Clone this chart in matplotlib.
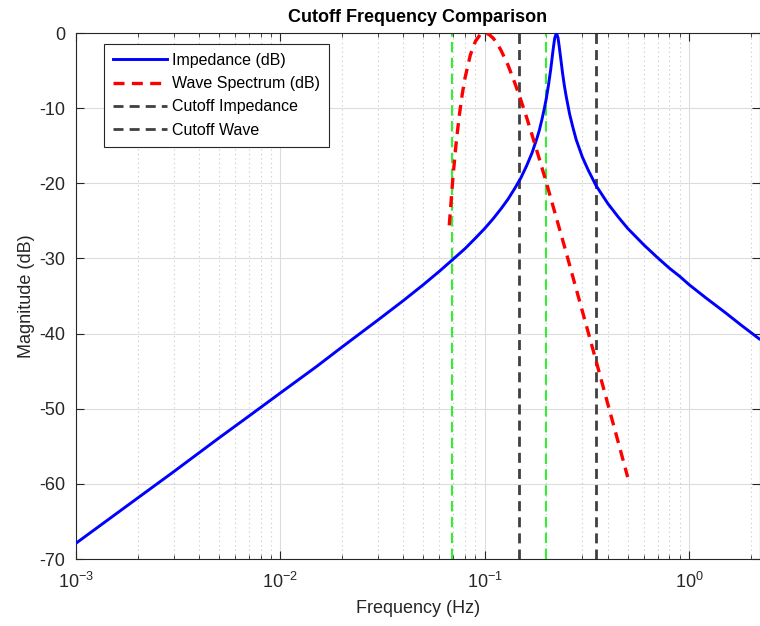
import matplotlib
matplotlib.use('Agg')
import matplotlib.pyplot as plt
from matplotlib.ticker import LogLocator, NullFormatter

plt.rcParams['font.family'] = ['Liberation Sans', 'DejaVu Sans']
plt.rcParams['mathtext.fontset'] = 'custom'
plt.rcParams['mathtext.rm'] = 'Liberation Sans'
plt.rcParams['mathtext.it'] = 'Liberation Sans:italic'
plt.rcParams['mathtext.bf'] = 'Liberation Sans:bold'

# impedance curve (Hz, dB)
imp_f = [0.001, 0.002, 0.003, 0.005, 0.007, 0.01, 0.015, 0.02, 0.03, 0.04, 0.05, 0.06,
         0.07, 0.08, 0.09, 0.1, 0.11, 0.12, 0.13, 0.14, 0.15, 0.16, 0.17, 0.18, 0.185,
         0.19, 0.195, 0.2, 0.205, 0.21, 0.215, 0.218, 0.22, 0.224, 0.228, 0.231, 0.235,
         0.238, 0.24, 0.245, 0.25, 0.26, 0.27, 0.28, 0.3, 0.32, 0.35, 0.4, 0.45, 0.5,
         0.6, 0.7, 0.8, 0.9, 1.0, 1.2, 1.5, 1.8, 2.2]
imp_db = [-67.9, -61.9, -58.4, -53.9, -51.0, -47.9, -44.4, -41.8, -38.2, -35.6, -33.5, -31.7,
          -30.1, -28.7, -27.3, -26.0, -24.7, -23.4, -22.1, -20.7, -19.3, -17.7, -16.0, -14.0, -12.9,
          -11.6, -10.2, -8.7, -6.9, -4.9, -2.6, -1.35, -0.65, 0.0, -0.6, -1.7, -3.3,
          -4.5, -5.3, -7.0, -8.4, -10.8, -12.6, -14.2, -16.5, -18.2, -20.3, -22.7, -24.5, -26.0,
          -28.2, -29.9, -31.3, -32.4, -33.5, -35.2, -37.2, -38.9, -40.7]

# wave spectrum (Hz, dB)
wave_f = [0.067, 0.07, 0.0725, 0.075, 0.0775, 0.08, 0.085, 0.09, 0.095, 0.1, 0.105, 0.11,
          0.115, 0.12, 0.13, 0.14, 0.15, 0.16, 0.17, 0.185, 0.2, 0.225, 0.25, 0.275, 0.3,
          0.35, 0.4, 0.45, 0.5]
wave_db = [-25.6, -18.9, -14.5, -11.0, -8.2, -6.0, -2.9, -1.1, -0.2, 0.0, -0.2, -0.7,
           -1.4, -2.3, -4.3, -6.6, -8.9, -11.2, -13.5, -16.8, -19.9, -24.8, -29.2, -33.3, -37.0,
           -43.6, -49.4, -54.5, -59.1]

cutoff_imp = [0.147, 0.35]
cutoff_wave = [0.069, 0.2]

fig = plt.figure(figsize=(7.6, 6.26), dpi=100)
ax = fig.add_axes([76 / 760, 67 / 626, 684 / 760, 526 / 626])

ax.plot(imp_f, imp_db, color='#0000ff', lw=2.1, label='Impedance (dB)', zorder=3)
ax.plot(wave_f, wave_db, color='#ff0000', lw=2.4, ls=(0, (3.3, 2.2)),
        label='Wave Spectrum (dB)', zorder=3)

# green lines (not in legend)
for f in cutoff_wave:
    ax.axvline(f, color='#33ee33', lw=1.5, ls=(0, (5, 2.6)), zorder=2)
for i, f in enumerate(cutoff_imp):
    ax.axvline(f, color='#404040', lw=2, ls=(0, (3.6, 2.2)), zorder=2,
               label=['Cutoff Impedance', 'Cutoff Wave'][i])

ax.set_xscale('log')
ax.set_xlim(0.001, 2.22)
ax.set_ylim(-70, 0)
ax.set_yticks(range(-70, 1, 10))
ax.set_yticklabels([str(v) for v in range(-70, 1, 10)])
ax.xaxis.set_major_locator(LogLocator(base=10, numticks=10))
ax.xaxis.set_minor_locator(LogLocator(base=10, subs=range(2, 10), numticks=20))
ax.xaxis.set_minor_formatter(NullFormatter())

ax.grid(True, which='major', color='#dcdcdc', lw=0.8)
ax.grid(True, which='minor', axis='x', color='#c8c8c8', lw=0.8, ls=(0, (1, 3)))
ax.set_axisbelow(True)

ax.tick_params(which='both', direction='in', top=True, right=True, colors='#262626',
               labelcolor='#262626', labelsize=13)
ax.tick_params(which='major', length=6)
ax.tick_params(which='minor', length=3)
ax.tick_params(axis='x', which='major', pad=9)
ax.tick_params(axis='y', which='major', pad=8)
for s in ax.spines.values():
    s.set_color('#262626')
    s.set_linewidth(0.8)

ax.set_title('Cutoff Frequency Comparison', fontsize=13, fontweight='bold', pad=8)
ax.set_xlabel('Frequency (Hz)', fontsize=13, color='#262626', labelpad=6)
ax.set_ylabel('Magnitude (dB)', fontsize=13, color='#262626', labelpad=3)

leg = ax.legend(loc='upper left', bbox_to_anchor=(0.041, 0.979), borderaxespad=0,
                fontsize=11.5, fancybox=False, edgecolor='#262626', framealpha=1,
                handlelength=3.4, handletextpad=0.3, borderpad=0.55, labelspacing=0.52)
leg.get_frame().set_linewidth(0.8)

fig.savefig('out.png', dpi=100)
